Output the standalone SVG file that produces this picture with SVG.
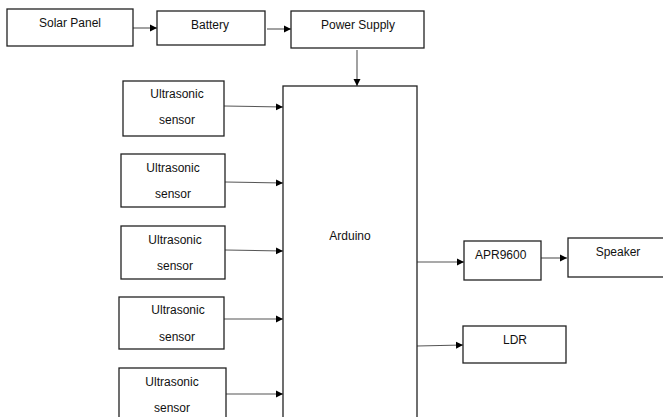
<svg xmlns="http://www.w3.org/2000/svg" width="663" height="417" viewBox="0 0 663 417">
<style>
.b{fill:#fff;stroke:#222;stroke-width:1.3}
.t{font-family:"Liberation Sans",Arial,sans-serif;font-size:12px;fill:#111;text-anchor:middle}
.c{stroke:#555;stroke-width:1.1;fill:none;marker-end:url(#ah)}
</style>
<defs>
<marker id="ah" markerWidth="8" markerHeight="8" refX="7" refY="4" orient="auto" markerUnits="userSpaceOnUse">
<path d="M0,0.5 L7,4 L0,7.5 Z" fill="#000"/>
</marker>
</defs>
<rect width="663" height="417" fill="#fff"/>
<g id="connectors">
<line class="c" x1="133" y1="28" x2="157" y2="28"/>
<line class="c" x1="267" y1="29" x2="291" y2="29"/>
<line class="c" x1="357" y1="50" x2="357" y2="86"/>
<line class="c" x1="224" y1="106" x2="283" y2="107"/>
<line class="c" x1="225" y1="182" x2="283" y2="183"/>
<line class="c" x1="225" y1="250" x2="283" y2="251"/>
<line class="c" x1="224" y1="319" x2="283" y2="319"/>
<line class="c" x1="226" y1="394" x2="283" y2="394"/>
<line class="c" x1="417" y1="262" x2="464" y2="262"/>
<line class="c" x1="541" y1="258" x2="567" y2="258"/>
<line class="c" x1="417" y1="346" x2="463" y2="345"/>
</g>
<g id="solar"><rect class="b" x="7" y="9" width="126" height="37"/><text class="t" x="70" y="27">Solar Panel</text></g>
<g id="battery"><rect class="b" x="157" y="11" width="108" height="34"/><text class="t" x="210" y="29">Battery</text></g>
<g id="power"><rect class="b" x="291" y="11" width="133" height="37"/><text class="t" x="358" y="29">Power Supply</text></g>
<g id="arduino"><rect class="b" x="283" y="86" width="134" height="340"/><text class="t" x="350" y="240">Arduino</text></g>
<g id="us1"><rect class="b" x="123" y="81" width="101" height="55"/><text class="t" x="177" y="98">Ultrasonic</text><text class="t" x="177" y="124">sensor</text></g>
<g id="us2"><rect class="b" x="121" y="154" width="104" height="53"/><text class="t" x="173" y="172">Ultrasonic</text><text class="t" x="173" y="198">sensor</text></g>
<g id="us3"><rect class="b" x="121" y="226" width="104" height="53"/><text class="t" x="175" y="244">Ultrasonic</text><text class="t" x="175" y="270">sensor</text></g>
<g id="us4"><rect class="b" x="119" y="297" width="105" height="52"/><text class="t" x="178" y="314">Ultrasonic</text><text class="t" x="177" y="341">sensor</text></g>
<g id="us5"><rect class="b" x="119" y="368" width="107" height="60"/><text class="t" x="172" y="386">Ultrasonic</text><text class="t" x="172" y="412">sensor</text></g>
<g id="apr"><rect class="b" x="464" y="241" width="77" height="39"/><text class="t" x="475" y="259" text-anchor="start" style="text-anchor:start">APR9600</text></g>
<g id="speaker"><rect class="b" x="568" y="238" width="100" height="39"/><text class="t" x="618" y="256">Speaker</text></g>
<g id="ldr"><rect class="b" x="463" y="326" width="103" height="37"/><text class="t" x="515" y="344">LDR</text></g>
</svg>
